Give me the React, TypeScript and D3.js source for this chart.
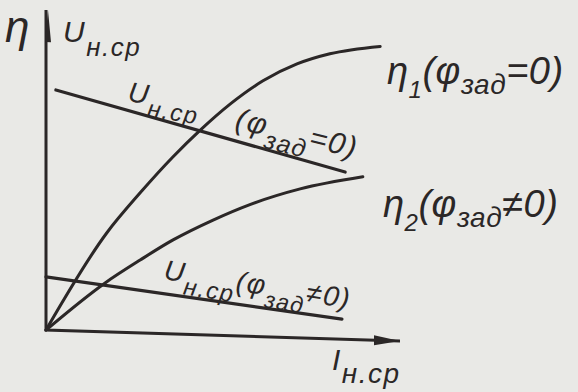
import React from "react";
import * as d3 from "d3";

// Load current I_н.ср, in percent of the drawn axis length
const eta1Current = [0, 17.2, 26.6, 35.9, 43.5, 52, 61.3, 70.9, 80.2, 94.4];
// Efficiency η1 at φзад = 0
const eta1Values = [0, 31, 43.8, 55.4, 63.9, 72.4, 80, 85.6, 89.1, 91.9];

const eta2Current = [0, 16.7, 26.6, 35.9, 47.2, 57.6, 71.8, 89.5];
// Efficiency η2 at φзад ≠ 0
const eta2Values = [0, 15.3, 22.8, 29.4, 36, 41.2, 46.6, 51];

// Average load voltage U_н.ср, straight falling lines
const u0Current = [2.8, 84.5];
const u0Values = [75.1, 52.3];
const u1Current = [0, 83.6];
const u1Values = [16.6, 6.3];

const AXIS_MAX = 100;

const W = 578;
const H = 392;
const INK = "#2b2727";
const PAPER = "#e9e9e6";
const FONT = "'Liberation Sans', 'DejaVu Sans', sans-serif";

type Pt = [number, number];
const zip = (xs: number[], ys: number[]): Pt[] => xs.map((x, i) => [x, ys[i]]);

function Sub({ main, sub, tail, size, subSize, drop }: { main: string; sub: string; tail?: string; size: number; subSize: number; drop: number }) {
  return (
    <>
      <tspan fontSize={size}>{main}</tspan>
      <tspan fontSize={subSize} dy={drop}>{sub}</tspan>
      {tail ? <tspan fontSize={size} dy={-drop}>{tail}</tspan> : null}
    </>
  );
}

export default function App() {
  const x = d3.scaleLinear().domain([0, AXIS_MAX]).range([0, 354]);
  const y = d3.scaleLinear().domain([0, AXIS_MAX]).range([0, -320]);

  const smooth = d3
    .line<Pt>()
    .x((d) => x(d[0]))
    .y((d) => y(d[1]))
    .curve(d3.curveMonotoneX);
  const straight = d3
    .line<Pt>()
    .x((d) => x(d[0]))
    .y((d) => y(d[1]));

  const xEnd = x(AXIS_MAX);
  const yEnd = y(AXIS_MAX);
  const axisPath = `M0,${yEnd}L0,0L${xEnd},0`;

  const textStyle: React.CSSProperties = { fontFamily: FONT, fontStyle: "italic", fill: INK, letterSpacing: 1.5 };

  return (
    <svg
      width={W}
      height={H}
      viewBox={`0 0 ${W} ${H}`}
      style={{ position: "absolute", left: 0, top: 0, background: PAPER }}
    >
      <rect width={W} height={H} fill={PAPER} />
      <g transform="translate(46,330) skewY(1.8)">
        <path d={axisPath} fill="none" stroke={INK} strokeWidth={3} />
        <path d={`M${xEnd},0L${xEnd - 26},-5L${xEnd - 26},5Z`} fill={INK} />
        <path d={`M2,${yEnd}L-1,${yEnd + 32}L5,${yEnd + 32}Z`} fill={INK} />

        <path d={smooth(zip(eta1Current, eta1Values)) || ""} fill="none" stroke={INK} strokeWidth={3} strokeLinecap="round" />
        <path d={smooth(zip(eta2Current, eta2Values)) || ""} fill="none" stroke={INK} strokeWidth={3} strokeLinecap="round" />
        <path d={straight(zip(u0Current, u0Values)) || ""} fill="none" stroke={INK} strokeWidth={3.2} strokeLinecap="round" />
        <path d={straight(zip(u1Current, u1Values)) || ""} fill="none" stroke={INK} strokeWidth={3.2} strokeLinecap="round" />
      </g>

      <g style={textStyle}>
        <text x={5} y={42} fontSize={44}>η</text>
        <text x={63} y={42}>
          <Sub main="U" sub="н.ср" size={30} subSize={26} drop={14} />
        </text>
        <text transform="translate(127,101) rotate(9)">
          <Sub main="U" sub="н.ср" size={28} subSize={24} drop={12} />
        </text>
        <text transform="translate(234,128) rotate(14)">
          <Sub main="(φ" sub="зад" tail="=0)" size={30} subSize={25} drop={12} />
        </text>
        <text x={387} y={84} letterSpacing={0.5}>
          <Sub main="η" sub="1" size={38} subSize={24} drop={14} />
          <tspan fontSize={38} dy={-14}>(φ</tspan>
          <tspan fontSize={28} dy={10}>зад</tspan>
          <tspan fontSize={38} dy={-10}>=0)</tspan>
        </text>
        <text x={383} y={217} letterSpacing={0.5}>
          <Sub main="η" sub="2" size={38} subSize={24} drop={14} />
          <tspan fontSize={38} dy={-14}>(φ</tspan>
          <tspan fontSize={28} dy={10}>зад</tspan>
          <tspan fontSize={38} dy={-10}>≠0)</tspan>
        </text>
        <text transform="translate(163,279) rotate(9)">
          <Sub main="U" sub="н.ср" tail="(φ" size={28} subSize={24} drop={12} />
          <tspan fontSize={23} dy={12}>зад</tspan>
          <tspan fontSize={28} dy={-12}>≠0)</tspan>
        </text>
        <text x={332} y={370}>
          <Sub main="I" sub="н.ср" size={30} subSize={28} drop={13} />
        </text>
      </g>
    </svg>
  );
}
